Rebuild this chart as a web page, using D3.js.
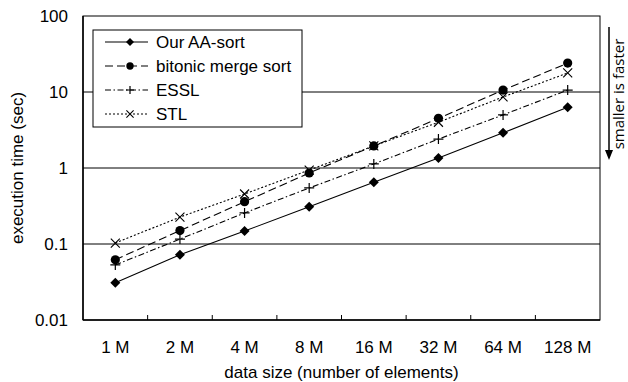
<!DOCTYPE html>
<html>
<head>
<meta charset="utf-8">
<script src="https://cdn.jsdelivr.net/npm/d3@7"></script>
<style>
  body { margin: 0; background: #fff; }
  svg text { font-family: "Liberation Sans", Arial, sans-serif; fill: #000; }
</style>
</head>
<body>
<div id="chart"></div>
<script>
var sizes = ["1 M", "2 M", "4 M", "8 M", "16 M", "32 M", "64 M", "128 M"];
var aaSort  = [0.031, 0.072, 0.148, 0.31, 0.65, 1.35, 2.9, 6.3];
var bitonic = [0.062, 0.15, 0.36, 0.86, 1.95, 4.5, 10.6, 24];
var essl    = [0.053, 0.116, 0.256, 0.546, 1.13, 2.4, 5.0, 10.6];
var stl     = [0.103, 0.226, 0.455, 0.94, 1.95, 4.0, 8.6, 17.8];
var yTicks  = [0.01, 0.1, 1, 10, 100];

var series = [
    {name: "Our AA-sort", values: aaSort, dash: null, marker: "diamond"},
    {name: "bitonic merge sort", values: bitonic, dash: "8,4", marker: "circle"},
    {name: "ESSL", values: essl, dash: "6,2.5,1.5,2.5", marker: "plus"},
    {name: "STL", values: stl, dash: "2,2", marker: "cross"}
];

var margin = {top: 16, right: 28, bottom: 62, left: 83},
    width = 628 - margin.left - margin.right,
    height = 382 - margin.top - margin.bottom;

var svg = d3.select("#chart").append("svg")
    .attr("width", 628).attr("height", 382)
    .append("g").attr("transform", "translate(" + margin.left + "," + margin.top + ")");

var x = d3.scaleBand().domain(sizes).range([0, width]);
var y = d3.scaleLog().domain([0.01, 100]).range([height, 0]);

// gridlines
svg.selectAll(".grid").data(yTicks.slice(1, -1)).enter().append("line")
    .attr("x1", 0).attr("x2", width)
    .attr("y1", function(d) { return y(d); }).attr("y2", function(d) { return y(d); })
    .attr("stroke", "#000").attr("stroke-width", 1);

// frame
svg.append("rect").attr("width", width).attr("height", height)
    .attr("fill", "none").attr("stroke", "#000").attr("stroke-width", 1);
svg.append("line").attr("x1", 0).attr("x2", 0).attr("y1", 0).attr("y2", height)
    .attr("stroke", "#000").attr("stroke-width", 1.5);
svg.append("line").attr("x1", 0).attr("x2", width).attr("y1", height).attr("y2", height)
    .attr("stroke", "#000").attr("stroke-width", 1.5);

// x axis
var xAxis = svg.append("g").attr("transform", "translate(0," + height + ")");
xAxis.selectAll(".tick").data(sizes.slice(1)).enter().append("line")
    .attr("x1", function(d) { return x(d); }).attr("x2", function(d) { return x(d); })
    .attr("y1", 0).attr("y2", -5).attr("stroke", "#000");
xAxis.selectAll("text").data(sizes).enter().append("text")
    .attr("x", function(d) { return x(d) + x.bandwidth() / 2; })
    .attr("y", 33).attr("text-anchor", "middle").style("font-size", "17px")
    .text(function(d) { return d; });

// y axis labels
svg.selectAll(".ylab").data(yTicks).enter().append("text")
    .attr("x", -15).attr("y", function(d) { return y(d); }).attr("dy", "0.36em")
    .attr("text-anchor", "end").style("font-size", "17px")
    .text(function(d) { return d; });

// axis titles
svg.append("text").attr("x", width / 2).attr("y", height + 58)
    .attr("text-anchor", "middle").style("font-size", "17px")
    .text("data size (number of elements)");
svg.append("text").attr("transform", "translate(-60," + (height / 2) + ") rotate(-90)")
    .attr("text-anchor", "middle").style("font-size", "17px")
    .text("execution time (sec)");

// markers
function drawMarker(g, type, k) {
    var p = g.append("path").attr("transform", "scale(" + k + ")");
    if (type === "diamond") {
        p.attr("d", "M0,-5L5,0L0,5L-5,0Z").attr("fill", "#000");
    } else if (type === "circle") {
        p.remove();
        g.append("circle").attr("r", 4.6 * k).attr("fill", "#000");
    } else if (type === "plus") {
        p.attr("d", "M-5,0H5M0,-5V5").attr("stroke", "#000").attr("stroke-width", 1.2 / k);
    } else {
        p.attr("d", "M-4.5,-4.5L4.5,4.5M-4.5,4.5L4.5,-4.5").attr("stroke", "#000").attr("stroke-width", 1.1 / k);
    }
}

var line = d3.line()
    .x(function(d, i) { return x(sizes[i]) + x.bandwidth() / 2; })
    .y(function(d) { return y(d); });

series.forEach(function(s) {
    svg.append("path").datum(s.values).attr("d", line)
        .attr("fill", "none").attr("stroke", "#000").attr("stroke-width", 1.1)
        .attr("stroke-dasharray", s.dash);
    s.values.forEach(function(v, i) {
        var g = svg.append("g").attr("transform", "translate(" + (x(sizes[i]) + x.bandwidth() / 2) + "," + y(v) + ")");
        drawMarker(g, s.marker, 1);
    });
});

// legend
var legend = svg.append("g").attr("transform", "translate(10,14)");
legend.append("rect").attr("width", 209).attr("height", 97)
    .attr("fill", "#fff").attr("stroke", "#000").attr("stroke-width", 1);
series.forEach(function(s, i) {
    var ly = 12 + i * 24;
    legend.append("line").attr("x1", 12).attr("x2", 55).attr("y1", ly).attr("y2", ly)
        .attr("stroke", "#000").attr("stroke-width", 1.1).attr("stroke-dasharray", s.dash);
    drawMarker(legend.append("g").attr("transform", "translate(37," + ly + ")"), s.marker, 0.8);
    legend.append("text").attr("x", 63).attr("y", ly).attr("dy", "0.36em")
        .style("font-size", "17px").text(s.name);
});

// "smaller is faster" note
var note = svg.append("g").attr("transform", "translate(" + (width + 9) + ",0)");
note.append("line").attr("x1", 0).attr("x2", 0).attr("y1", 11).attr("y2", 136)
    .attr("stroke", "#000").attr("stroke-width", 1.5);
note.append("path").attr("d", "M-4,134L4,134L0,144Z").attr("fill", "#000");
note.append("text").attr("transform", "translate(15,78) rotate(-90)")
    .attr("text-anchor", "middle").style("font-size", "15px")
    .style("font-family", "'Open Sans', 'DejaVu Sans', sans-serif")
    .text("smaller is faster");
</script>
</body>
</html>
